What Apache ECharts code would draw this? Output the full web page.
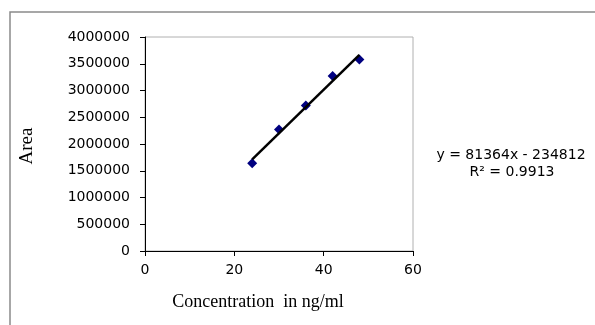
<!DOCTYPE html>
<html><head><meta charset="utf-8">
<script src="https://cdn.jsdelivr.net/npm/echarts@6/dist/echarts.min.js"></script>
<style>html,body{margin:0;padding:0;background:#fff}#c{width:595px;height:325px}</style>
</head><body><div id="c"></div>
<script>
const concentration = [24, 30, 36, 42, 48];
const area = [1640000, 2270000, 2720000, 3270000, 3580000];
const trendX = [24, 48];
const trendY = [1712000, 3665000];
const xTicks = [0, 20, 40, 60];
const yTicks = [0, 500000, 1000000, 1500000, 2000000, 2500000, 3000000, 3500000, 4000000];
const equationText = 'y = 81364x - 234812';
const r2Text = 'R² = 0.9913';
const xTitle = 'Concentration  in ng/ml';
const yTitle = 'Area';

const chart = echarts.init(document.getElementById('c'), null, {renderer: 'canvas'});
const tickFont = {fontFamily: 'DejaVu Sans', fontSize: 14, color: '#000'};
chart.setOption({
  animation: false,
  backgroundColor: '#fff',
  grid: {left: 145, right: 182, top: 37, bottom: 74, show: true, borderColor: '#b0b0b0', borderWidth: 1},
  xAxis: {
    type: 'value', min: xTicks[0], max: xTicks[xTicks.length - 1], interval: 20,
    axisLine: {show: true, lineStyle: {color: '#000', width: 1}},
    axisTick: {show: true, length: 5, lineStyle: {color: '#000'}},
    axisLabel: Object.assign({margin: 12, formatter: v => String(v)}, tickFont),
    splitLine: {show: false}
  },
  yAxis: {
    type: 'value', min: yTicks[0], max: yTicks[yTicks.length - 1], interval: 500000,
    axisLine: {show: true, lineStyle: {color: '#000', width: 1}},
    axisTick: {show: true, length: 5, lineStyle: {color: '#000'}},
    axisLabel: Object.assign({margin: 15, formatter: v => String(v)}, tickFont),
    splitLine: {show: false}
  },
  series: [
    {
      type: 'scatter', z: 2,
      data: concentration.map((x, i) => [x, area[i]]),
      symbol: 'diamond', symbolSize: 10,
      itemStyle: {color: '#000080', opacity: 1}
    },
    {
      type: 'line', z: 3,
      data: trendX.map((x, i) => [x, trendY[i]]),
      symbol: 'none',
      lineStyle: {color: '#000', width: 2.5}
    }
  ],
  graphic: [
    {type: 'rect', shape: {x: 10, y: 12, width: 600, height: 330}, style: {fill: 'none', stroke: '#8a8a8a', lineWidth: 1.5}, silent: true},
    {type: 'text', style: {x: 258, y: 302, text: xTitle, textAlign: 'center', textVerticalAlign: 'middle', font: '18px "Liberation Serif"', fill: '#000'}},
    {type: 'text', x: 27, y: 146, rotation: Math.PI / 2, style: {x: 0, y: 0, text: yTitle, textAlign: 'center', textVerticalAlign: 'middle', font: '19px "Liberation Serif"', fill: '#000'}},
    {type: 'text', style: {x: 511, y: 155, text: equationText, textAlign: 'center', textVerticalAlign: 'middle', font: '14px "DejaVu Sans"', fill: '#000'}},
    {type: 'text', style: {x: 512, y: 172, text: r2Text, textAlign: 'center', textVerticalAlign: 'middle', font: '14px "DejaVu Sans"', fill: '#000'}}
  ]
});
</script></body></html>
